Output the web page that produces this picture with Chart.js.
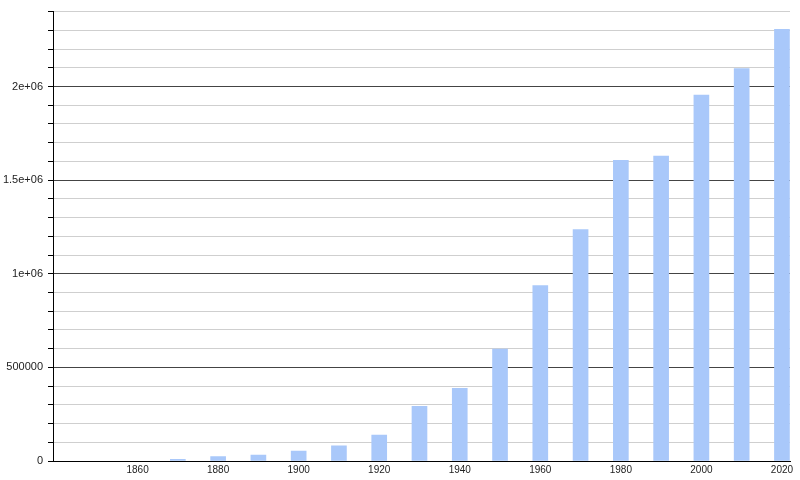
<!DOCTYPE html>
<html>
<head>
<meta charset="utf-8">
<script src="https://cdn.jsdelivr.net/npm/chart.js@4/dist/chart.umd.min.js"></script>
<style>
  html, body { margin: 0; padding: 0; background: #fff; }
  #wrap { width: 800px; height: 480px; }
</style>
</head>
<body>
<div id="wrap"><canvas id="grafico" width="800" height="480"></canvas></div>
<script>
// years and values
let years = [1870, 1880, 1890, 1900, 1910, 1920, 1930, 1940, 1950, 1960, 1970, 1980, 1990, 2000, 2010, 2020];
let values = [9000, 23000, 32000, 53000, 81000, 138000, 292000, 388000, 598000, 937000, 1236000, 1606000, 1629000, 1954000, 2096000, 2305000];

let xTicks = [1860, 1880, 1900, 1920, 1940, 1960, 1980, 2000, 2020];
let yMajorValues = [0, 500000, 1000000, 1500000, 2000000];
let yMajorLabels = ['0', '500000', '1e+06', '1.5e+06', '2e+06'];

let puntos = years.map((y, i) => ({ x: y, y: values[i] }));

let ctx = document.getElementById('grafico').getContext('2d');
let chart = new Chart(ctx, {
  type: 'bar',
  data: {
    datasets: [{
      data: puntos,
      backgroundColor: '#a9c8fa',
      borderWidth: 0,
      barThickness: 15
    }]
  },
  options: {
    responsive: false,
    animation: false,
    layout: { padding: { top: 10, right: 10, left: 0, bottom: 0 } },
    plugins: {
      legend: { display: false },
      tooltip: { enabled: false }
    },
    scales: {
      x: {
        type: 'linear',
        offset: false,
        min: 1839,
        max: 2022,
        afterBuildTicks: scale => { scale.ticks = xTicks.map(v => ({ value: v })); },
        afterFit: scale => { scale.height = 19; },
        grid: { display: false, drawTicks: false, offset: false },
        border: { display: true, color: '#000', width: 1 },
        ticks: {
          padding: 3,
          color: '#222',
          font: { family: 'Liberation Sans', size: 10 },
          maxRotation: 0,
          callback: v => String(v)
        }
      },
      y: {
        min: 0,
        max: 2400000,
        afterFit: scale => { scale.width = 53; },
        ticks: {
          stepSize: 100000,
          autoSkip: false,
          padding: 5,
          color: '#222',
          font: { family: 'Liberation Sans', size: 11 },
          callback: v => {
            let i = yMajorValues.indexOf(v);
            return i >= 0 ? yMajorLabels[i] : '';
          }
        },
        grid: {
          color: c => (c.tick && c.tick.value % 500000 === 0) ? '#444' : '#cfcfcf',
          tickColor: '#000',
          tickLength: 5,
          lineWidth: 1
        },
        border: { display: true, color: '#000', width: 1 }
      }
    }
  }
});
</script>
</body>
</html>
